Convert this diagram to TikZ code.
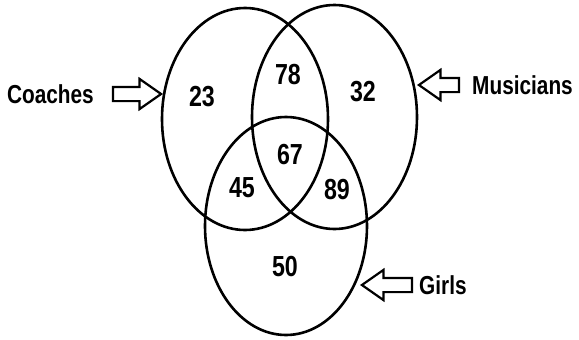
\documentclass[tikz,border=0pt]{standalone}
\usepackage{fontspec}
\newfontfamily\vennfont[FakeStretch=0.8]{Liberation Sans}
\usetikzlibrary{shapes.geometric,shapes.arrows,positioning}

\begin{document}
\begin{tikzpicture}[x=1pt,y=-1pt,
  set/.style={draw, ellipse, line width=2.6pt, inner sep=0pt},
  count/.style={font=\vennfont\bfseries\fontsize{29}{29}\selectfont, inner sep=0pt},
  tag/.style={font=\vennfont\bfseries\fontsize{26}{26}\selectfont, inner sep=0pt},
  pointer/.style={draw, single arrow, line width=2.2pt, inner sep=6pt,
    minimum height=46pt, minimum width=28pt,
    single arrow head extend=8pt, single arrow tip angle=70}]
  \useasboundingbox (0,0) rectangle (579,340);

  % the three sets
  \node[set, minimum width=166pt, minimum height=222pt] (coaches) at (245,119) {};
  \node[set, minimum width=165pt, minimum height=224pt] (musicians) at (334.5,117) {};
  \node[set, minimum width=162pt, minimum height=218pt] (girls) at (286,226) {};

  % region counts
  \node[count] (onlyC) at (202,97) {23};
  \node[count] (cm) at (288,75) {78};
  \node[count] (onlyM) at (363,92) {32};
  \node[count] (cmg) at (290,155) {67};
  \node[count] (cg) at (242,188) {45};
  \node[count] (mg) at (337,190) {89};
  \node[count] (onlyG) at (285,267) {50};

  % pointers and names
  \node[pointer, anchor=tip, minimum height=48pt] (cArrow) at (163,94) {};
  \node[pointer, anchor=tip, minimum height=40pt, shape border rotate=180] (mArrow) at (417,85) {};
  \node[pointer, anchor=tip, minimum height=50pt, shape border rotate=180] (gArrow) at (360,285) {};
  \node[tag, left=18pt of cArrow.tail] (coachesName) {Coaches};
  \node[tag, right=12pt of mArrow.tail] (musiciansName) {Musicians};
  \node[tag, right=6pt of gArrow.tail] (girlsName) {Girls};
\end{tikzpicture}
\end{document}
